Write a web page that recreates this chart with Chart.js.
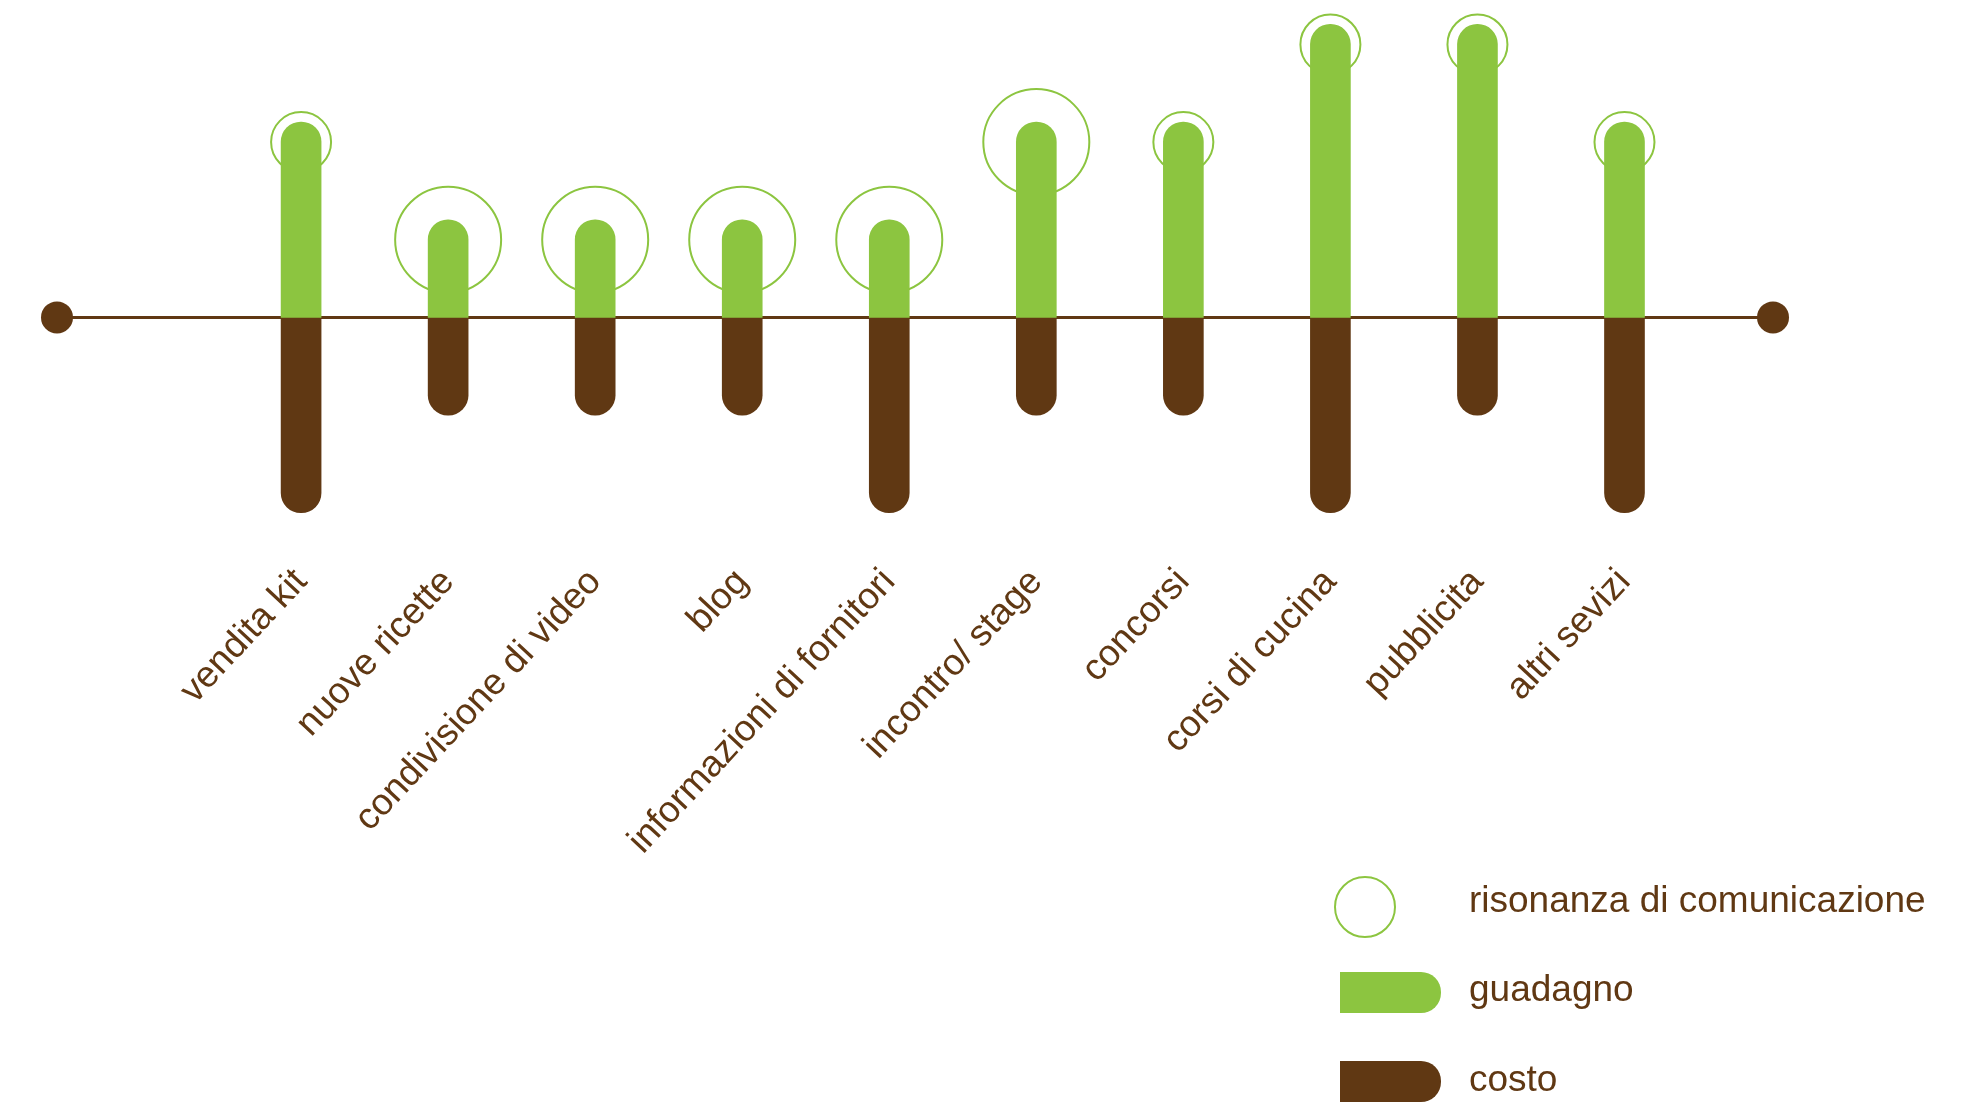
<!DOCTYPE html>
<html lang="it">
<head>
    <meta charset="UTF-8">
    <title>Guadagno, costo e risonanza</title>
    <script src="https://cdn.jsdelivr.net/npm/chart.js"></script>
    <style>
        :root {
            --green: #8cc540;
            --brown: #603813;
        }

        body {
            margin: 0;
            background: #fff;
            font-family: 'Liberation Sans', Arial, sans-serif;
        }

        .chart-box {
            position: relative;
            width: 1973px;
            height: 1102px;
        }

        .legend-item {
            position: absolute;
            left: 1469px;
            font-size: 37px;
            line-height: 37px;
            color: var(--brown);
            white-space: nowrap;
        }

        .legend-ring {
            position: absolute;
            left: 1334px;
            top: 876px;
            width: 58px;
            height: 58px;
            border: 2px solid var(--green);
            border-radius: 50%;
        }

        .legend-bar {
            position: absolute;
            left: 1340px;
            width: 101px;
            height: 41px;
            border-radius: 0 20px 20px 0;
        }
    </style>
</head>
<body>
    <div class="chart-box">
        <canvas id="chart"></canvas>

        <div class="legend-ring"></div>
        <div class="legend-item" style="top: 881px;">risonanza di comunicazione</div>
        <div class="legend-bar" style="top: 972px; background: var(--green);"></div>
        <div class="legend-item" style="top: 970px;">guadagno</div>
        <div class="legend-bar" style="top: 1061px; background: var(--brown);"></div>
        <div class="legend-item" style="top: 1060px;">costo</div>
    </div>

    <script>
        const categories = ['vendita kit', 'nuove ricette', 'condivisione di video', 'blog',
            'informazioni di fornitori', 'incontro/ stage', 'concorsi', 'corsi di cucina',
            'pubblicita', 'altri sevizi'];
        const guadagno = [2, 1, 1, 1, 1, 2, 2, 3, 3, 2];
        const costo = [2, 1, 1, 1, 2, 1, 1, 2, 1, 2];
        const risonanza = [1, 2, 2, 2, 2, 2, 1, 1, 1, 1];

        const GREEN = '#8cc540';
        const BROWN = '#603813';
        const BAR_W = 40;

        // ring sits on the rounded cap of the green bar, not on its tip
        const ringOnCap = {
            id: 'ringOnCap',
            afterDatasetsUpdate(chart) {
                chart.getDatasetMeta(2).data.forEach(el => { el.y += BAR_W / 2; });
            }
        };

        // brown base line with a dot at both ends
        const baseline = {
            id: 'baseline',
            beforeDatasetsDraw(chart) {
                const {ctx, chartArea, scales} = chart;
                const y0 = scales.y.getPixelForValue(0);
                ctx.save();
                ctx.strokeStyle = BROWN;
                ctx.fillStyle = BROWN;
                ctx.lineWidth = 3;
                ctx.beginPath();
                ctx.moveTo(chartArea.left, y0);
                ctx.lineTo(chartArea.right, y0);
                ctx.stroke();
                [chartArea.left, chartArea.right].forEach(x => {
                    ctx.beginPath();
                    ctx.arc(x, y0, 16, 0, Math.PI * 2);
                    ctx.fill();
                });
                ctx.restore();
            }
        };

        const capRadius = {topLeft: BAR_W / 2, topRight: BAR_W / 2, bottomLeft: BAR_W / 2, bottomRight: BAR_W / 2};

        new Chart(document.getElementById('chart'), {
            data: {
                datasets: [
                    {
                        type: 'bar',
                        label: 'guadagno',
                        data: guadagno.map((v, i) => ({x: i, y: v})),
                        backgroundColor: GREEN,
                        barThickness: BAR_W,
                        borderRadius: capRadius,
                        borderSkipped: 'start',
                        grouped: false,
                        order: 1
                    },
                    {
                        type: 'bar',
                        label: 'costo',
                        data: costo.map((v, i) => ({x: i, y: -v})),
                        backgroundColor: BROWN,
                        barThickness: BAR_W,
                        borderRadius: capRadius,
                        borderSkipped: 'start',
                        grouped: false,
                        order: 1
                    },
                    {
                        type: 'bubble',
                        label: 'risonanza di comunicazione',
                        data: guadagno.map((v, i) => ({x: i, y: v})),
                        radius: ctx => 7 + 23 * risonanza[ctx.dataIndex],
                        backgroundColor: 'rgba(0,0,0,0)',
                        borderColor: GREEN,
                        borderWidth: 2,
                        clip: false,
                        order: 2
                    }
                ]
            },
            options: {
                responsive: true,
                maintainAspectRatio: false,
                animation: false,
                layout: {
                    autoPadding: false,
                    padding: {left: 57, right: 200, top: 0, bottom: 244}
                },
                plugins: {
                    legend: {display: false},
                    tooltip: {enabled: false}
                },
                scales: {
                    x: {
                        type: 'linear',
                        offset: false,
                        min: -1.66,
                        max: 10.01,
                        afterBuildTicks: axis => {
                            axis.ticks = categories.map((c, i) => ({value: i}));
                        },
                        grid: {display: false, drawTicks: false, offset: false},
                        border: {display: false},
                        ticks: {
                            autoSkip: false,
                            minRotation: 47,
                            maxRotation: 47,
                            padding: -5,
                            color: BROWN,
                            font: {family: "'Liberation Sans', Arial, sans-serif", size: 37},
                            callback: value => categories[value]
                        }
                    },
                    y: {
                        display: false,
                        min: -2.54,
                        max: 3.25
                    }
                }
            },
            plugins: [ringOnCap, baseline]
        });
    </script>
</body>
</html>
